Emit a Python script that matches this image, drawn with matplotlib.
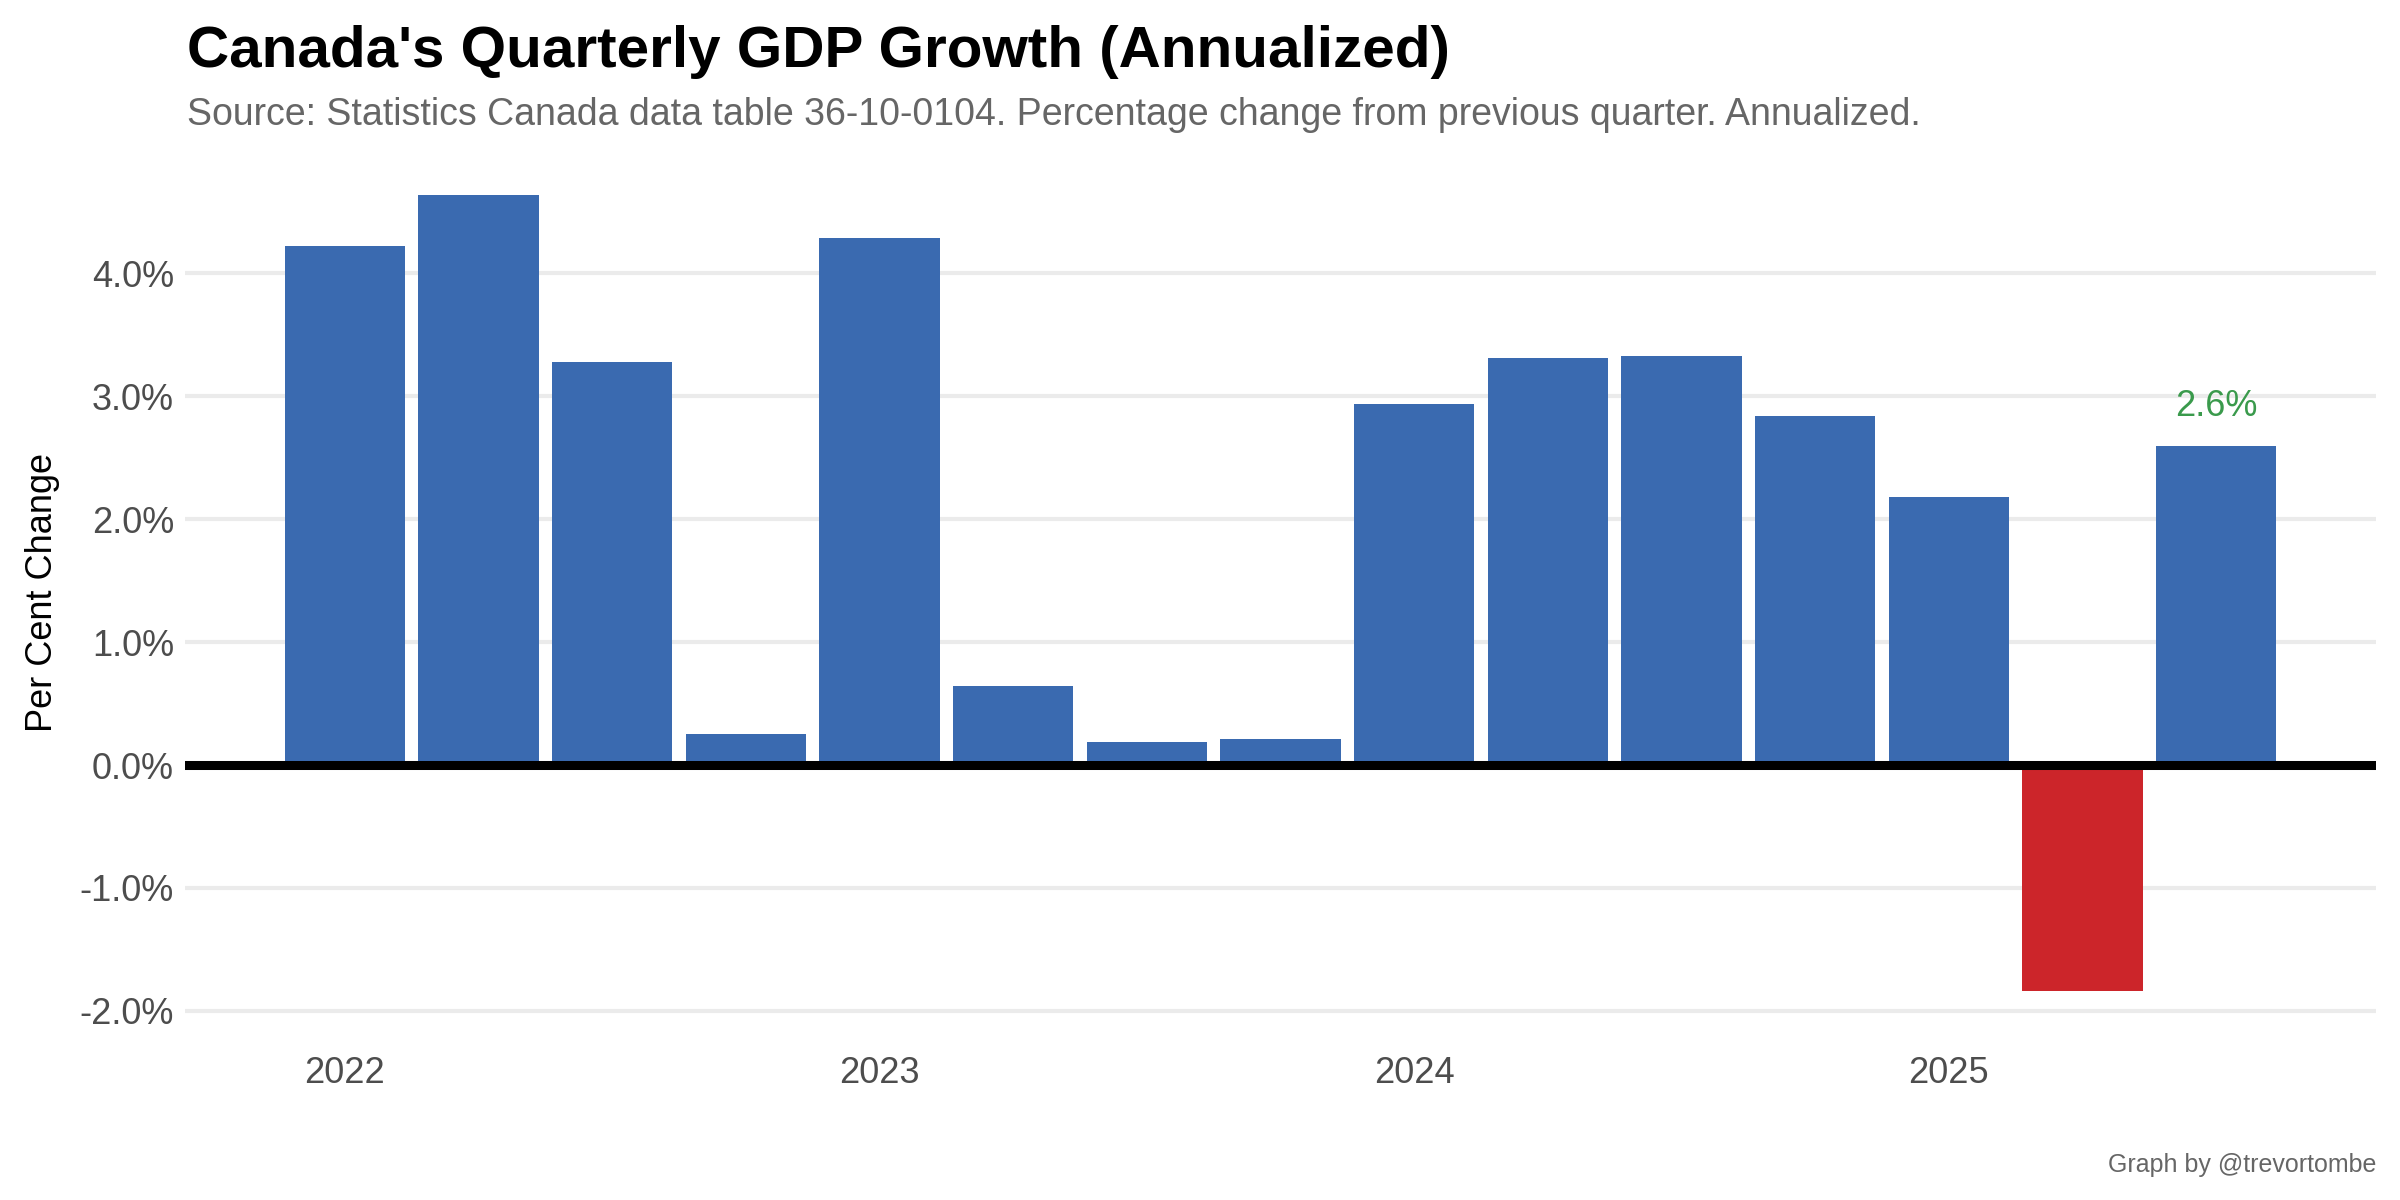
import numpy as np
import matplotlib.pyplot as plt

# quarterly annualized GDP growth, 2022Q1 .. 2025Q3
quarters = ["2022Q1", "2022Q2", "2022Q3", "2022Q4",
            "2023Q1", "2023Q2", "2023Q3", "2023Q4",
            "2024Q1", "2024Q2", "2024Q3", "2024Q4",
            "2025Q1", "2025Q2", "2025Q3"]
growth = [4.22, 4.64, 3.28, 0.25,
          4.29, 0.64, 0.19, 0.21,
          2.94, 3.31, 3.33, 2.84,
          2.18, -1.84, 2.60]
year_ticks = [0, 4, 8, 12]
year_labels = ["2022", "2023", "2024", "2025"]
y_ticks = [-2, -1, 0, 1, 2, 3, 4]

plt.rcParams['font.family'] = ['Liberation Sans', 'DejaVu Sans']

blue = "#3A6AB0"
red = "#CC252A"
x = np.arange(len(growth))
colors = [red if v < 0 else blue for v in growth]

fig = plt.figure(figsize=(24, 12), dpi=100)
ax = fig.add_axes([185/2400, 1 - 1031/1200, (2376-185)/2400, (1031-155)/1200])

for yt in y_ticks:
    ax.axhline(yt, color="#EBEBEB", lw=3, zorder=0)
ax.bar(x, growth, width=0.9, color=colors, zorder=2)
ax.axhline(0, color="black", lw=6.5, zorder=3)

# label on the latest quarter
ax.text(x[-1], growth[-1] + 0.32, f"{growth[-1]:.1f}%", color="#3A9A4C",
        fontsize=26, ha="center", va="center")

span = (len(growth) - 1) + 0.9
ax.set_xlim(-0.45 - 0.05*span, len(growth) - 1 + 0.45 + 0.05*span)
lo, hi = min(growth), max(growth)
ax.set_ylim(lo - 0.05*(hi - lo), hi + 0.05*(hi - lo))

ax.set_xticks(year_ticks)
ax.set_xticklabels(year_labels)
ax.set_yticks(y_ticks)
ax.set_yticklabels([f"{v:.1f}%" for v in y_ticks])
ax.tick_params(axis="both", length=0, labelsize=26, labelcolor="#4D4D4D")
ax.tick_params(axis="x", pad=18)
ax.tick_params(axis="y", pad=8)
ax.set_ylabel("Per Cent Change", fontsize=26, color="black", labelpad=14)
for s in ax.spines.values():
    s.set_visible(False)

fig.text(187/2400, 1 - 67/1200, "Canada's Quarterly GDP Growth (Annualized)",
         fontsize=42, fontweight="bold", ha="left", va="baseline")
fig.text(187/2400, 1 - 125/1200,
         "Source: Statistics Canada data table 36-10-0104. Percentage change from previous quarter. Annualized.",
         fontsize=27, color="#666666", ha="left", va="baseline")
fig.text(2376/2400, 1 - 1172/1200, "Graph by @trevortombe",
         fontsize=18, color="#666666", ha="right", va="baseline")

fig.savefig("out.png", dpi=100, facecolor="white")
